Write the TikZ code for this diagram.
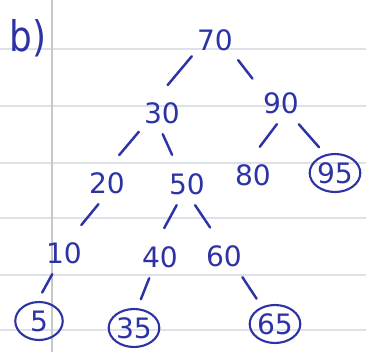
\documentclass[tikz,border=0pt]{standalone}
\usepackage{fontspec}
\setmainfont{DejaVu Sans}
\usetikzlibrary{shapes.geometric}
\definecolor{ink}{RGB}{45,50,165}
\definecolor{paper}{RGB}{222,226,232}
\tikzset{
  num/.style={text=ink, font=\fontsize{16}{18}\selectfont, inner sep=2pt, outer xsep=1pt, outer ysep=4pt},
  leaf/.style={num, draw=ink, ellipse, line width=1.2pt, minimum width=0.95cm, minimum height=0.76cm, inner sep=0pt, outer sep=1pt},
  branch/.style={draw=ink, line width=1.4pt, line cap=round, shorten >=5pt},
  ruling/.style={draw=paper, line width=0.7pt},
}
\begin{document}
\begin{tikzpicture}[x=0.02cm, y=-0.02cm]
  \useasboundingbox (0,0) rectangle (366,352);
  % ruled paper
  \foreach \y in {49,106,163,218,275,330}
    \draw[ruling] (0,\y) -- (366,\y);
  \draw[ruling, draw=black!22] (52,0) -- (52,352);

  \node[num, font=\fontsize{24}{26}\selectfont, xscale=0.85] (part) at (28,38) {b)};

  \node[num] (n70) at (215,40) {70};
  \node[num] (n30) at (162,113) {30};
  \node[num] (n90) at (281,103) {90};
  \node[num] (n20) at (107,183) {20};
  \node[num] (n50) at (187,184) {50};
  \node[num] (n80) at (253,175) {80};
  \node[leaf] (n95) at (335,173) {95};
  \node[num] (n10) at (64,253) {10};
  \node[num] (n40) at (160,257) {40};
  \node[num] (n60) at (224,256) {60};
  \node[leaf] (n5) at (39,321) {5};
  \node[leaf] (n35) at (134,328) {35};
  \node[leaf] (n65) at (275,324) {65};

  \draw[branch] (n70.215) -- (n30.90);
  \draw[branch] (n70.319) -- (n90.143);
  \draw[branch] (n30.219) -- (n20.73);
  \draw[branch] (n30.272) -- (n50.118);
  \draw[branch] (n90.259) -- (n80.86);
  \draw[branch] (n90.310) -- (n95.118);
  \draw[branch] (n20.248) -- (n10.61);
  \draw[branch] (n50.244) -- (n40.90);
  \draw[branch] (n50.291) -- (n60.113);
  \draw[branch] (n10.241) -- (n5.93);
  \draw[branch] (n40.243) -- (n35.80);
  \draw[branch] (n60.311) -- (n65.127);
\end{tikzpicture}
\end{document}
